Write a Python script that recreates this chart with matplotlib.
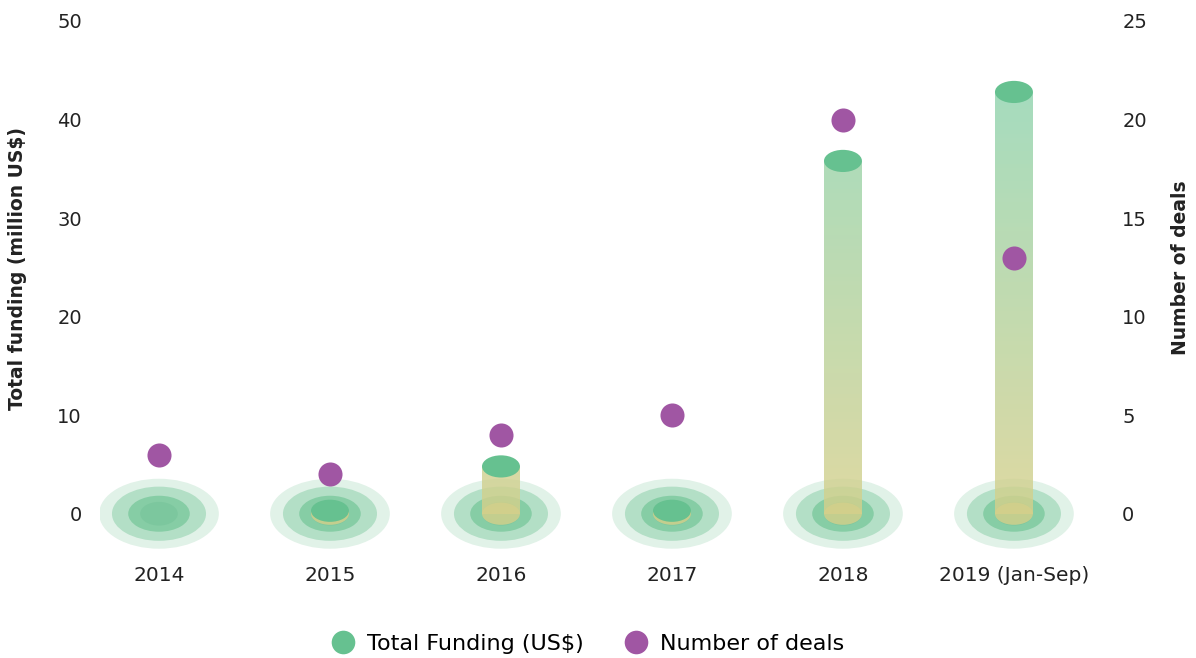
import matplotlib.pyplot as plt
import numpy as np
from matplotlib.patches import Ellipse, Rectangle
from matplotlib.lines import Line2D
from matplotlib.colors import LinearSegmentedColormap

plt.rcParams['font.family'] = ['DejaVu Sans']

years = ['2014', '2015', '2016', '2017', '2018', '2019 (Jan-Sep)']
funding = [0, 0.3, 4.8, 0.3, 35.8, 42.8]   # million US$
deals = [3, 2, 4, 5, 20, 13]

green = '#66c190'
purple = '#a056a3'
ring_colors = ['#e1f2e8', '#b3dfc6', '#86cda5', '#7cc79e']
ring_sizes = [(0.70, 7.1), (0.55, 5.5), (0.36, 3.65), (0.22, 2.4)]

fig = plt.figure(figsize=(11.96, 6.58), dpi=100)
ax = fig.add_axes([100 / 1196, 95 / 658, 975 / 1196, 542 / 658])
ax2 = ax.twinx()

ax.set_xlim(-0.345, 5.357)
ax.set_ylim(-5, 50)
ax2.set_ylim(-2.5, 25)

# gradient for the cylinders (yellowish at bottom, green at top)
grad = LinearSegmentedColormap.from_list('g', ['#d6d08b', '#8fd3ae'])
bar_w = 0.222
cap_h = 2.25

for i, v in enumerate(funding):
    for (w, h), c in zip(ring_sizes, ring_colors):
        ax.add_patch(Ellipse((i, 0), w, h, facecolor=c, edgecolor='none', zorder=1))
    if v <= 0:
        continue
    top_frac = min(v / 43.0, 1.0)
    g = np.linspace(0, top_frac, 100).reshape(-1, 1)
    ax.add_patch(Ellipse((i, 0), bar_w, cap_h, facecolor=grad(0.0), alpha=0.8,
                         edgecolor='none', zorder=2))
    img = ax.imshow(g, cmap=grad, vmin=0, vmax=1, origin='lower', aspect='auto',
                    extent=[i - bar_w / 2, i + bar_w / 2, 0, v], alpha=0.8, zorder=2)
    clip = Rectangle((i - bar_w / 2, 0), bar_w, v, transform=ax.transData)
    img.set_clip_path(clip)
    ax.add_patch(Ellipse((i, v), bar_w, cap_h, facecolor=green, edgecolor='none', zorder=3))

ax2.scatter(range(len(deals)), deals, s=300, color=purple, zorder=5, linewidths=0)

ax.set_xticks(range(len(years)))
ax.set_xticklabels(years, fontsize=14.5, color='#222222')
ax.tick_params(axis='x', length=0, pad=2)
ax.set_yticks(range(0, 51, 10))
ax.tick_params(axis='y', length=0, pad=13, labelsize=14, labelcolor='#222222')
ax2.set_yticks(range(0, 26, 5))
ax2.tick_params(axis='y', length=0, pad=34, labelsize=14, labelcolor='#222222')

for a in (ax, ax2):
    for s in a.spines.values():
        s.set_visible(False)

fig.text(18 / 1196, 1 - 268 / 658, 'Total funding (million US$)', rotation=90,
         ha='center', va='center', fontsize=13.5, fontweight='bold', color='#222222')
fig.text(1180 / 1196, 1 - 268 / 658, 'Number of deals', rotation=90,
         ha='center', va='center', fontsize=13.5, fontweight='bold', color='#222222')

handles = [Line2D([], [], marker='o', linestyle='none', markersize=17, color=green,
                  markeredgewidth=0, label='Total Funding (US$)'),
           Line2D([], [], marker='o', linestyle='none', markersize=17, color=purple,
                  markeredgewidth=0, label='Number of deals')]
fig.legend(handles=handles, loc='center', bbox_to_anchor=(587 / 1196, 1 - 644 / 658),
           ncol=2, frameon=False, fontsize=16, handlelength=1.2, handletextpad=0.5,
           columnspacing=1.75, borderpad=0)

fig.savefig('out.png', dpi=100)
